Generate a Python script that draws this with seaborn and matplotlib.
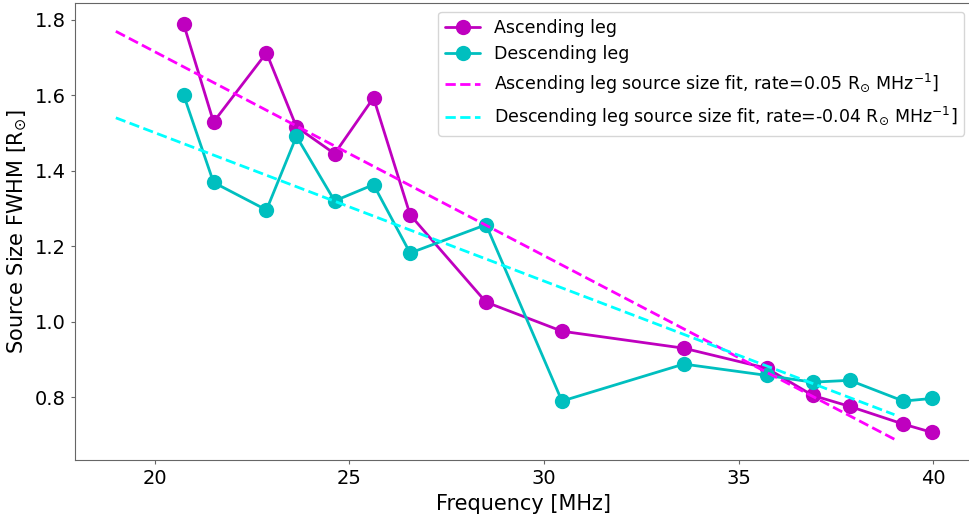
import numpy as np
import pandas as pd
import matplotlib
matplotlib.use('Agg')
import matplotlib.pyplot as plt
import seaborn as sns

# frequencies of the imaged subbands [MHz]
freq = [20.74, 21.51, 22.87, 23.64, 24.62, 25.62, 26.56, 28.51, 30.46,
        33.59, 35.72, 36.90, 37.85, 39.23, 39.97]

# source size FWHM [R_sun]
asc_size = [1.789, 1.529, 1.712, 1.516, 1.445, 1.593, 1.283, 1.052, 0.975,
            0.930, 0.877, 0.805, 0.776, 0.729, 0.707]
desc_size = [1.601, 1.369, 1.296, 1.491, 1.320, 1.363, 1.182, 1.257, 0.790,
             0.888, 0.858, 0.840, 0.845, 0.790, 0.797]

# linear fits (end points)
fit_freq = [19.0, 39.0]
asc_fit = [1.769, 0.689]
desc_fit = [1.540, 0.754]

sns.set_style('ticks')
plt.rcParams['font.family'] = ['DejaVu Sans']
plt.rcParams['text.color'] = 'black'
plt.rcParams['axes.labelcolor'] = 'black'

fig = plt.figure(figsize=(9.69, 5.14), dpi=100)
ax = fig.add_axes([75/969, 54/514, 898/969, 457/514])

df_asc = pd.DataFrame({'freq': freq, 'size': asc_size})
df_desc = pd.DataFrame({'freq': freq, 'size': desc_size})

sns.lineplot(data=df_asc, x='freq', y='size', ax=ax, color='m', marker='o',
             markersize=11, markeredgewidth=0, linewidth=2, label='Ascending leg')
sns.lineplot(data=df_desc, x='freq', y='size', ax=ax, color='c', marker='o',
             markersize=11, markeredgewidth=0, linewidth=2, label='Descending leg')
ax.plot(fit_freq, asc_fit, '--', color='magenta', linewidth=2,
        label=r'Ascending leg source size fit, rate=0.05 R$_{\odot}$ MHz$^{-1}$]')
ax.plot(fit_freq, desc_fit, '--', color='cyan', linewidth=2,
        label=r'Descending leg source size fit, rate=-0.04 R$_{\odot}$ MHz$^{-1}$]')

ax.margins(x=0.05, y=0.05)
ax.set_xticks([20, 25, 30, 35, 40])
ax.set_yticks([0.8, 1.0, 1.2, 1.4, 1.6, 1.8])
ax.tick_params(labelsize=14, color='0.4', labelcolor='black', length=3)
ax.set_xlabel('Frequency [MHz]', fontsize=15)
ax.set_ylabel(r'Source Size FWHM [R$_{\odot}$]', fontsize=15)
for s in ax.spines.values():
    s.set_color('0.4')
ax.legend(loc='upper right', fontsize=12.5, frameon=True, framealpha=0.8)

fig.savefig('out.png', dpi=100)
